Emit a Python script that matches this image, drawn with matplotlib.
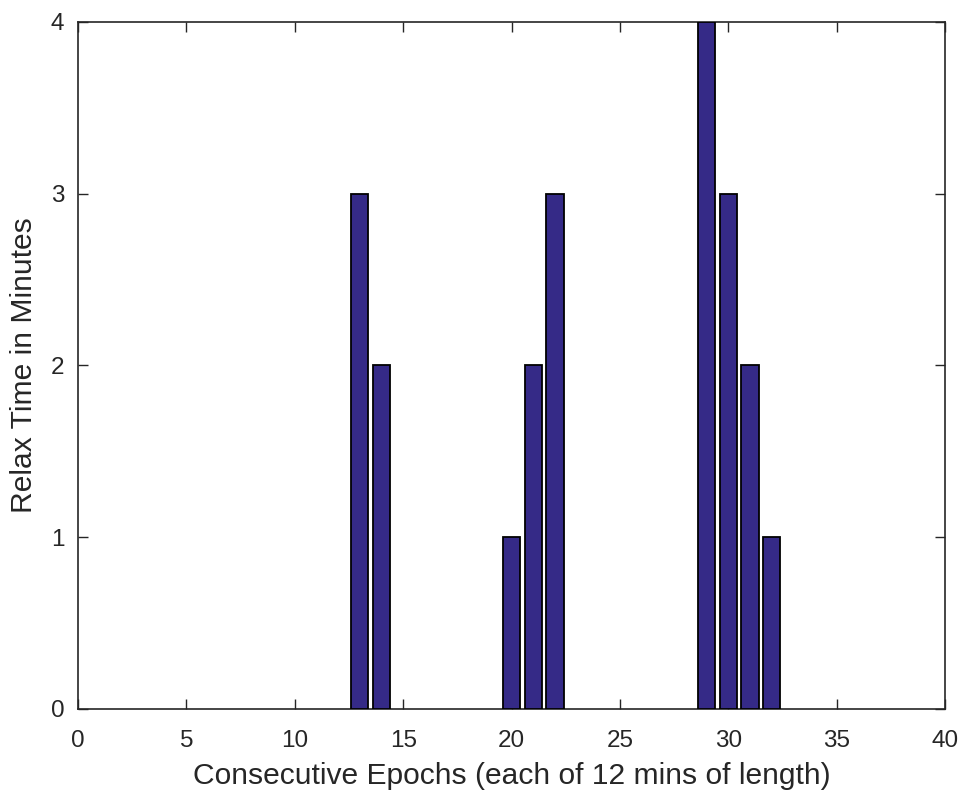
import matplotlib
matplotlib.use("Agg")
import matplotlib.pyplot as plt

epochs = [13, 14, 20, 21, 22, 29, 30, 31, 32]
relax_minutes = [3, 2, 1, 2, 3, 4, 3, 2, 1]
xticks = [0, 5, 10, 15, 20, 25, 30, 35, 40]
yticks = [0, 1, 2, 3, 4]

plt.rcParams['font.family'] = ['Liberation Sans', 'DejaVu Sans']

fig = plt.figure(figsize=(9.61, 7.96), dpi=100)
ax = fig.add_axes([0.0812, 0.1093, 0.9022, 0.8631])
ax.bar(epochs, relax_minutes, width=0.8, color='#352a87', edgecolor='black', linewidth=1.3, zorder=3)
ax.set_xlim(0, 40)
ax.set_ylim(0, 4)
ax.set_xticks(xticks)
ax.set_yticks(yticks)
ax.tick_params(direction='in', top=True, right=True, length=7, width=1, labelsize=17.5, colors='#262626')
ax.tick_params(axis='x', pad=15)
ax.tick_params(axis='y', pad=10)
for s in ax.spines.values():
    s.set_linewidth(1.2)
    s.set_color('#262626')
ax.set_xlabel('Consecutive Epochs (each of 12 mins of length)', fontsize=21.6, color='#262626', labelpad=7)
ax.set_ylabel('Relax Time in Minutes', fontsize=21.6, color='#262626', labelpad=9)
fig.savefig('out.png', dpi=100)
